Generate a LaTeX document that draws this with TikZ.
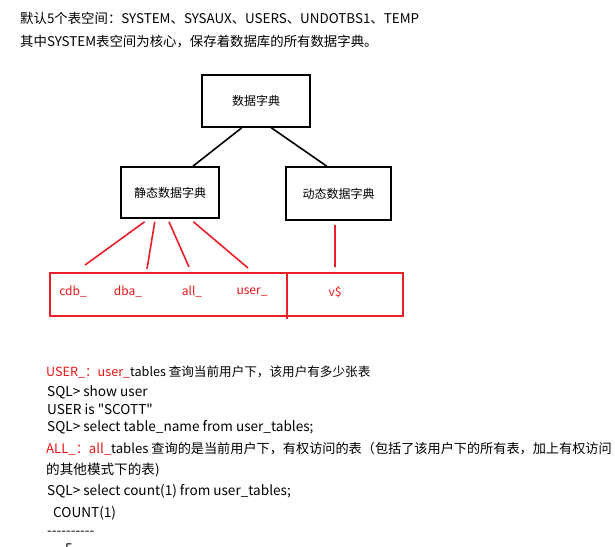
\documentclass[tikz,border=0pt]{standalone}
\usepackage{fontspec}
\newfontfamily\notosc{Noto Sans CJK SC}
\usetikzlibrary{positioning,calc}
\definecolor{linered}{RGB}{232,30,40}
\definecolor{txtred}{RGB}{235,20,20}

\begin{document}
\begin{tikzpicture}[x=1pt, y=-1pt, font=\notosc\fontsize{12}{14}\selectfont]
  \useasboundingbox (0,0) rectangle (615,546);
  \tikzset{dictbox/.style={draw, line width=1.6pt, inner sep=0pt},
    redline/.style={linered, line width=1.6pt},
    viewlabel/.style={txtred, inner sep=0pt},
    txt/.style={anchor=west, inner sep=0pt, font=\notosc\fontsize{13.6}{16}\selectfont}}
  % tablespace note
  \node[txt, font=\notosc\fontsize{13.4}{15}\selectfont] (head1) at (20,18) {默认5个表空间：SYSTEM、SYSAUX、USERS、UNDOTBS1、TEMP};
  \node[txt, font=\notosc\fontsize{13.4}{15}\selectfont] (head2) at (20,42) {其中SYSTEM表空间为核心，保存着数据库的所有数据字典。};
  % dictionary tree
  \node[dictbox, minimum width=108, minimum height=52] (dict) at (256,101) {数据字典};
  \node[dictbox, minimum width=98, minimum height=51] (static) at (170,192.5) {静态数据字典};
  \node[dictbox, minimum width=105, minimum height=53] (dynamic) at (338.5,193.5) {动态数据字典};
  \draw[line width=1.6pt] ($(dict.south west)!0.37!(dict.south east)$) -- ($(static.north west)!0.73!(static.north east)$);
  \draw[line width=1.6pt] ($(dict.south west)!0.64!(dict.south east)$) -- ($(dynamic.north west)!0.39!(dynamic.north east)$);
  % view prefixes
  \node[draw=linered, line width=1.6pt, minimum width=353, minimum height=43] (views) at (226.5,294.5) {};
  \draw[redline] ($(views.north west)!0.671!(views.north east)$) -- ($(views.south west)!0.671!(views.south east)+(0,2)$);
  \foreach \n/\px/\ex/\ey/\f in {cdb/73/85/265/0.245, dba/128/147/269/0.347, all/192/189/267/0.49, user/252/248/268/0.735} {
    \node[viewlabel] (\n) at (\px,292) {\n\_};
    \coordinate (\n top) at (\ex,\ey);
    \draw[redline] ($(static.south west)!\f!(static.south east)+(0,3)$) -- (\n top);
  }
  \node[viewlabel] (vdollar) at (335,292) {v\$};
  \coordinate (vtop) at (335,267);
  \draw[redline] ($(dynamic.south west)!0.467!(dynamic.south east)+(0,4)$) -- (vtop);
  % queries
  \node[txt, font=\notosc\fontsize{12.6}{14}\selectfont] (userq) at (46,372) {\textcolor{txtred}{USER\_：user\_}tables 查询当前用户下，该用户有多少张表};
  \node[txt] (show) at (47,392) {SQL> show user};
  \node[txt] (scott) at (47,409) {USER is "SCOTT"};
  \node[txt] (tname) at (47,427) {SQL> select table\_name from user\_tables;};
  \node[txt, font=\notosc\fontsize{13.15}{16}\selectfont] (allq) at (46,449) {\textcolor{txtred}{ALL\_：all\_}tables 查询的是当前用户下，有权访问的表（包括了该用户下的所有表，加上有权访问};
  \node[txt] (allq2) at (46,470) {的其他模式下的表)};
  \node[txt] (count) at (47,491) {SQL> select count(1) from user\_tables;};
  \node[txt] (colhead) at (53,513) {COUNT(1)};
  \node[txt] (rule) at (47,533) {----------};
  \node[txt] (result) at (65,549) {5};
\end{tikzpicture}
\end{document}
